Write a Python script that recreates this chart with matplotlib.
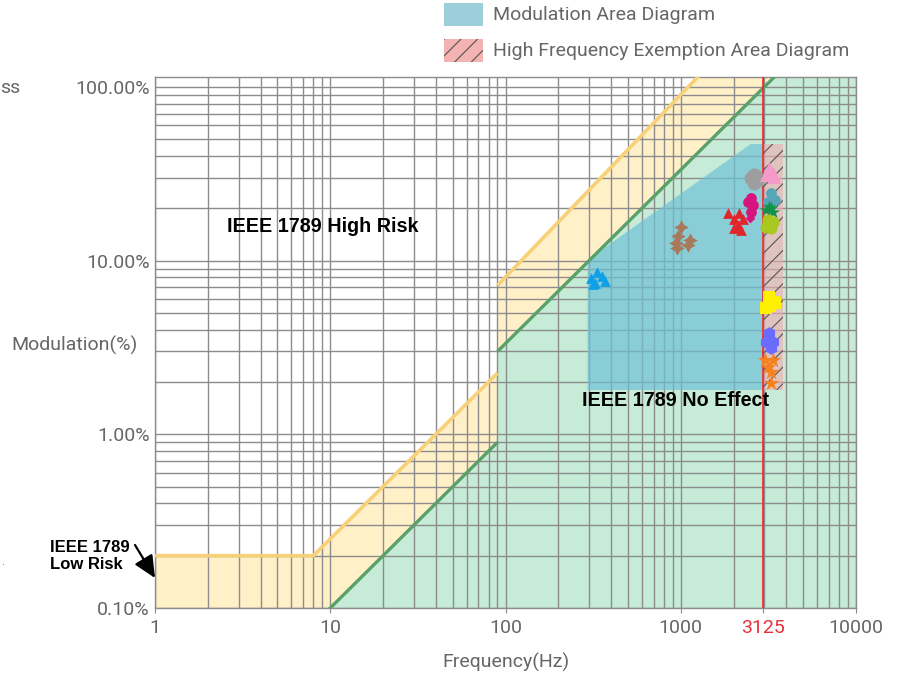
import matplotlib
matplotlib.use('Agg')
import matplotlib.pyplot as plt
import matplotlib.patches as mpatches
from matplotlib.ticker import FixedLocator, LogLocator, NullFormatter

plt.rcParams['font.family'] = ['Roboto', 'DejaVu Sans']
plt.rcParams['hatch.linewidth'] = 0.8

# ---------------- data ----------------
# IEEE 1789 boundaries (frequency Hz, modulation %)
high_risk_freq = [1, 8, 90, 90, 1250, 10000]
high_risk_mod = [0.2, 0.2, 2.25, 7.2, 114, 1000]
no_effect_freq = [1, 90, 90, 10000]
no_effect_mod = [0.01, 0.9, 3.0, 333.3]

# modulation area diagram polygon
mod_area_freq = [294, 294, 2512, 2950, 2950]
mod_area_mod = [1.8, 10.1, 46.9, 46.9, 1.8]

# high frequency exemption area
exempt_freq = [2950, 3828]
exempt_mod = [1.8, 46.9]
exempt_line_freq = 2950
exempt_label = "3125"

x_ticks = [1, 10, 100, 1000, exempt_line_freq, 10000]
x_tick_labels = ['1', '10', '100', '1000', exempt_label, '10000']
y_ticks = [0.1, 1, 10, 100]
y_tick_labels = ['0.10%', '1.00%', '10.00%', '100.00%']

# measured samples
blue_f = [314, 331, 354, 368, 325, 306]
blue_m = [7.3, 8.6, 8.1, 7.6, 7.4, 7.9]
brown_f = [1000, 961, 936, 950, 1125, 1097]
brown_m = [15.6, 13.9, 12.6, 11.8, 13.2, 12.3]
red_f = [1856, 2009, 2145, 2261, 2009, 2203, 2118]
red_m = [18.8, 17.4, 18.8, 17.4, 15.5, 15.1, 16.1]
magenta_f = [2512, 2415, 2578, 2512, 2480]
magenta_m = [22.9, 21.7, 20.9, 19.1, 17.6]
gray_f = [2612, 2512, 2754, 2612, 2700]
gray_m = [31.1, 29.9, 29.1, 28.0, 30.5]
pink_f = [3184, 3356, 3061, 3398, 3250]
pink_m = [34.1, 31.9, 31.1, 30.3, 33.0]
teal_f = [3266, 3141, 3443]
teal_m = [24.5, 21.8, 22.4]
green_f = [3184, 3061, 3356, 3270]
green_m = [20.4, 19.6, 19.1, 20.0]
lime_f = [3141, 3356, 3061, 3266]
lime_m = [17.1, 16.7, 15.6, 15.4]
yellow_f = [3184, 3356, 3061, 3452, 3250]
yellow_m = [6.2, 5.8, 5.3, 5.7, 5.5]
violet_f = [3184, 3061, 3356, 3266]
violet_m = [3.83, 3.4, 3.4, 3.14]
orange_f = [3020, 3356, 3141, 3266, 3266]
orange_m = [2.68, 2.68, 2.44, 2.29, 1.97]

# ---------------- figure ----------------
W, H = 902, 680
fig = plt.figure(figsize=(W / 100, H / 100), dpi=100)


def fx(x):
    return x / W


def fy(y):
    return 1 - y / H


ax = fig.add_axes([fx(155), fy(608), fx(856) - fx(155), fy(77) - fy(608)])
ax.set_xscale('log')
ax.set_yscale('log')
ax.set_xlim(1, 10000)
ax.set_ylim(0.1, 114)

GREEN_FILL = '#C6EBD6'
YELLOW_FILL = '#FFF0C8'

# green (no effect) region
green_poly = list(zip(no_effect_freq, no_effect_mod)) + [(10000, 0.001), (1, 0.001)]
ax.add_patch(mpatches.Polygon(green_poly, closed=True, facecolor=GREEN_FILL,
                              edgecolor='none', zorder=0.5))
# yellow (low risk) region
yellow_poly = list(zip(high_risk_freq, high_risk_mod)) + \
    list(zip(no_effect_freq, no_effect_mod))[::-1]
ax.add_patch(mpatches.Polygon(yellow_poly, closed=True, facecolor=YELLOW_FILL,
                              edgecolor='none', zorder=0.6))

# grid
ax.set_axisbelow(False)
ax.grid(True, which='both', color='#8c8c8c', lw=1.0)

# modulation area
ax.add_patch(mpatches.Polygon(list(zip(mod_area_freq, mod_area_mod)), closed=True,
                              facecolor='#6FC1D6', alpha=0.7, edgecolor='none', zorder=3))
# exemption area
ex_w = exempt_freq[1] - exempt_freq[0]
ex_h = exempt_mod[1] - exempt_mod[0]
ax.add_patch(mpatches.Rectangle((exempt_freq[0], exempt_mod[0]), ex_w, ex_h,
                                facecolor='#EFA9B0', alpha=0.6, edgecolor='none', zorder=3))
ax.add_patch(mpatches.Rectangle((exempt_freq[0], exempt_mod[0]), ex_w, ex_h,
                                facecolor='none', hatch='//', edgecolor='#555555',
                                lw=0, zorder=3.1))

# boundary lines
ax.plot(high_risk_freq[:3], high_risk_mod[:3], color='#F8D078', lw=2.6, zorder=4,
        solid_capstyle='butt')
ax.plot(high_risk_freq[3:], high_risk_mod[3:], color='#F8D078', lw=2.6, zorder=4,
        solid_capstyle='butt')
ax.plot(no_effect_freq[:2], no_effect_mod[:2], color='#5AA069', lw=2.4, zorder=4,
        solid_capstyle='butt')
ax.plot(no_effect_freq[2:], no_effect_mod[2:], color='#5AA069', lw=2.4, zorder=4,
        solid_capstyle='butt')
ax.axvline(exempt_line_freq, color='#FF1A1A', lw=1.1, zorder=4.5)

# samples
S = 60
ax.scatter(blue_f, blue_m, marker='^', s=S, color='#10A0E8', zorder=5, lw=0)
ax.scatter(brown_f, brown_m, marker=(4, 1, 0), s=110, color='#A87A5C', zorder=5, lw=0)
ax.scatter(red_f, red_m, marker='^', s=S, color='#E0262B', zorder=5, lw=0)
ax.scatter(magenta_f[:4], magenta_m[:4], marker='o', s=S, color='#D6147E', zorder=5, lw=0)
ax.scatter(magenta_f[4:], magenta_m[4:], marker='D', s=25, color='#D6147E', zorder=5, lw=0)
ax.scatter(gray_f, gray_m, marker='o', s=100, color='#9E9E9E', zorder=5, lw=0)
ax.scatter(teal_f, teal_m, marker='o', s=S, color='#56A6B8', zorder=5, lw=0)
ax.scatter(green_f, green_m, marker='*', s=100, color='#10934A', zorder=5.1, lw=0)
ax.scatter(lime_f, lime_m, marker='o', s=75, color='#A8C820', zorder=5.2, lw=0)
ax.scatter(pink_f, pink_m, marker='^', s=90, color='#F49AC8', zorder=5, lw=0)
ax.scatter(yellow_f, yellow_m, marker='s', s=75, color='#FFF000', zorder=5, lw=0)
ax.scatter(violet_f, violet_m, marker='h', s=85, color='#6B6BFF', zorder=5, lw=0)
ax.scatter(orange_f, orange_m, marker='*', s=140, color='#F5821F', zorder=5, lw=0)

# axes styling
for sp in ax.spines.values():
    sp.set_color('#8c8c8c')
    sp.set_linewidth(1.0)
ax.xaxis.set_major_locator(FixedLocator(x_ticks))
ax.xaxis.set_major_formatter(plt.FixedFormatter(x_tick_labels))
ax.xaxis.set_minor_locator(LogLocator(base=10, subs=range(2, 10)))
ax.xaxis.set_minor_formatter(NullFormatter())
ax.yaxis.set_major_locator(FixedLocator(y_ticks))
ax.yaxis.set_major_formatter(plt.FixedFormatter(y_tick_labels))
ax.yaxis.set_minor_locator(LogLocator(base=10, subs=range(2, 10)))
ax.yaxis.set_minor_formatter(NullFormatter())
ax.tick_params(axis='x', which='major', length=3.6, color='#8c8c8c', labelsize=14,
               labelcolor='#666666', pad=4.5)
ax.tick_params(axis='x', which='minor', length=0)
ax.tick_params(axis='y', which='both', length=0, labelsize=14, labelcolor='#666666', pad=4)
ax.get_xticklabels()[4].set_color('#E8303A')

# axis labels
fig.text(fx(506), fy(662), 'Frequency(Hz)', ha='center', va='center', fontsize=14,
         color='#666666')
fig.text(fx(11), fy(345), 'Modulation(%)', ha='left', va='center', fontsize=14,
         color='#666666')
fig.text(fx(0), fy(88), 'ss', ha='left', va='center', fontsize=14, color='#666666')
fig.text(fx(1), fy(562), '.', ha='left', va='center', fontsize=8, color='#666666')

# annotations
bold = dict(family=['Liberation Sans', 'DejaVu Sans'], weight='bold', color='black')
fig.text(fx(227), fy(227), 'IEEE 1789 High Risk', ha='left', va='center', fontsize=14.2, **bold)
fig.text(fx(582), fy(401), 'IEEE 1789 No Effect', ha='left', va='center', fontsize=14.2, **bold)
fig.text(fx(50), fy(556), 'IEEE 1789\nLow Risk', ha='left', va='center', fontsize=12,
         linespacing=1.15, **bold)
ax.annotate('', xy=(fx(155), fy(578)), xycoords='figure fraction',
            xytext=(fx(135), fy(545)), textcoords='figure fraction',
            arrowprops=dict(arrowstyle='-|>,head_length=0.75,head_width=0.35',
                            color='black', lw=1.6, mutation_scale=18,
                            shrinkA=0, shrinkB=0),
            annotation_clip=False, zorder=7)

# legend
fig.add_artist(mpatches.Rectangle((fx(444), fy(26)), fx(483) - fx(444), fy(3) - fy(26),
                                  transform=fig.transFigure, facecolor='#9DCFDB',
                                  edgecolor='none'))
fig.add_artist(mpatches.Rectangle((fx(444), fy(62)), fx(483) - fx(444), fy(39) - fy(62),
                                  transform=fig.transFigure, facecolor='#F4B3B3',
                                  edgecolor='none'))
fig.add_artist(mpatches.Rectangle((fx(444), fy(62)), fx(483) - fx(444), fy(39) - fy(62),
                                  transform=fig.transFigure, facecolor='none',
                                  hatch='//', edgecolor='#555555', lw=0))
fig.text(fx(493), fy(15), 'Modulation Area Diagram', ha='left', va='center', fontsize=14,
         color='#666666')
fig.text(fx(493), fy(51), 'High Frequency Exemption Area Diagram', ha='left', va='center',
         fontsize=14, color='#666666')

fig.savefig('out.png', dpi=100)
